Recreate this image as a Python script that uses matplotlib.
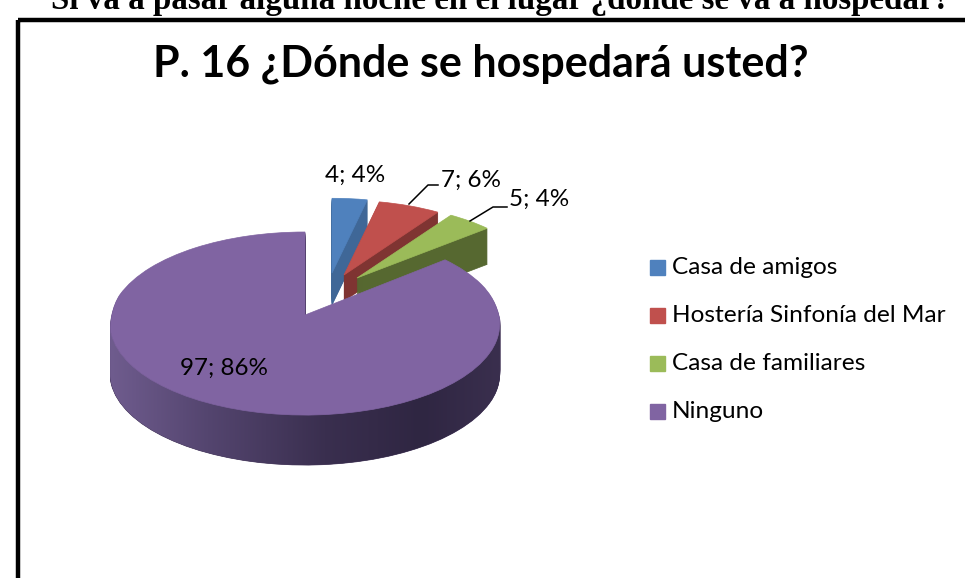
import numpy as np
import matplotlib
matplotlib.use("Agg")
import matplotlib.pyplot as plt
from matplotlib.patches import PathPatch, Rectangle
from matplotlib.path import Path

labels = ["Casa de amigos", "Hostería Sinfonía del Mar", "Casa de familiares", "Ninguno"]
values = [4, 7, 5, 97]
data_labels = ["4; 4%", "7; 6%", "5; 4%", "97; 86%"]
colors = ["#4f81bd", "#c0504d", "#9bbb59", "#8064a2"]
side_colors = ["#3f6797", "#7f3432", "#566830", "#3f3155"]

# where each slice tip sits in the picture, its size and wall height (pixels)
tip_x = [332, 344, 357, 305]
tip_y = [273, 275, 278, 315]
scale_x = [0.93, 0.93, 0.93, 1.0]
scale_y = [0.9, 0.9, 0.9, 1.0]
wall = [32, 26, 36, 50]

W, H = 965, 578
RX, RY, LIFT = 195, 91.5, 8.5
plt.rcParams["font.family"] = ["Lato", "DejaVu Sans"]
fig = plt.figure(figsize=(W / 100, H / 100), dpi=100)

# the pie is computed on a hidden axes, then its wedges are tilted into the 3d view
hidden = fig.add_axes([0, 0, 0.1, 0.1])
wedges, _ = hidden.pie(values, colors=colors, startangle=90, counterclock=False, radius=1.0)
hidden.set_visible(False)

ax = fig.add_axes([0, 0, 1, 1])
ax.set_xlim(0, W)
ax.set_ylim(H, 0)
ax.axis("off")


def tilt(x, y, i):
    r = np.hypot(x, y)
    # back half is squeezed sideways, keeps the point on the rim
    x2 = np.where(y > 0, x * (1 - 0.12 * y), x)
    y2 = np.sign(y) * np.sqrt(np.maximum(r ** 2 - x2 ** 2, 0))
    s = scale_y[i]
    px = tip_x[i] + scale_x[i] * RX * x2
    py = tip_y[i] + s * LIFT - s * RY * y2 - s * LIFT * (1 - r ** 2)
    return px, py


for i, w in enumerate(wedges):
    p = w.get_path()
    px, py = tilt(p.vertices[:, 0], p.vertices[:, 1], i)
    for d in range(wall[i], 0, -1):
        verts = np.column_stack([px, py + d])
        ax.add_patch(PathPatch(Path(verts, p.codes), fc=side_colors[i], ec=side_colors[i],
                               lw=0.5, zorder=2 + i * 2))
    verts = np.column_stack([px, py])
    ax.add_patch(PathPatch(Path(verts, p.codes), fc=colors[i], ec=colors[i], lw=0.5, zorder=3 + i * 2))

# shaded front wall of the big slice
t = np.linspace(np.pi / 2, 3 * np.pi / 2, 200)
ux, uy = tilt(np.sin(t), np.cos(t), 3)
outline = np.column_stack([np.r_[ux, ux[::-1]], np.r_[uy, uy[::-1] + wall[3]]])
shade = matplotlib.colors.LinearSegmentedColormap.from_list(
    "wall", [(0, "#6f5c8e"), (0.25, "#54456f"), (0.55, "#3a2f4f"), (0.8, "#2f2642"), (1, "#3a2f4e")])
img = ax.imshow(np.linspace(0, 1, 256).reshape(1, -1), cmap=shade, aspect="auto",
                extent=(110, 500, 480, 310), zorder=8.5)
img.set_clip_path(PathPatch(Path(outline), transform=ax.transData))
ax.set_xlim(0, W)
ax.set_ylim(H, 0)

# chart frame
ax.add_patch(Rectangle((17.5, 20), 950, 570, fill=False, ec="black", lw=3.2, zorder=1))
ax.text(501, 1, "Si va a pasar alguna noche en el lugar ¿dónde se va a hospedar?",
        ha="center", va="center", fontsize=23.8, fontweight="bold", family="Liberation Serif")
ax.text(481, 64, "P. 16 ¿Dónde se hospedará usted?", ha="center", va="center",
        fontsize=31, fontweight="bold", color="black")

# data labels
ax.text(355, 175, data_labels[0], ha="center", va="center", fontsize=17.5, zorder=20)
ax.text(471, 180, data_labels[1], ha="center", va="center", fontsize=17.5, zorder=20)
ax.text(539, 199, data_labels[2], ha="center", va="center", fontsize=17.5, zorder=20)
ax.text(224, 368, data_labels[3], ha="center", va="center", fontsize=17.5, zorder=20)
ax.plot([409, 428, 438], [204, 185, 185], color="black", lw=1.1, zorder=20)
ax.plot([470, 493, 507], [221, 207, 207], color="black", lw=1.1, zorder=20)

# legend
for i, (lab, col) in enumerate(zip(labels, colors)):
    y = 267 + i * 48
    ax.add_patch(Rectangle((650, y - 7), 15, 15, color=col))
    ax.text(672, y, lab, ha="left", va="center", fontsize=17.6)

fig.savefig("out.png", dpi=100)
